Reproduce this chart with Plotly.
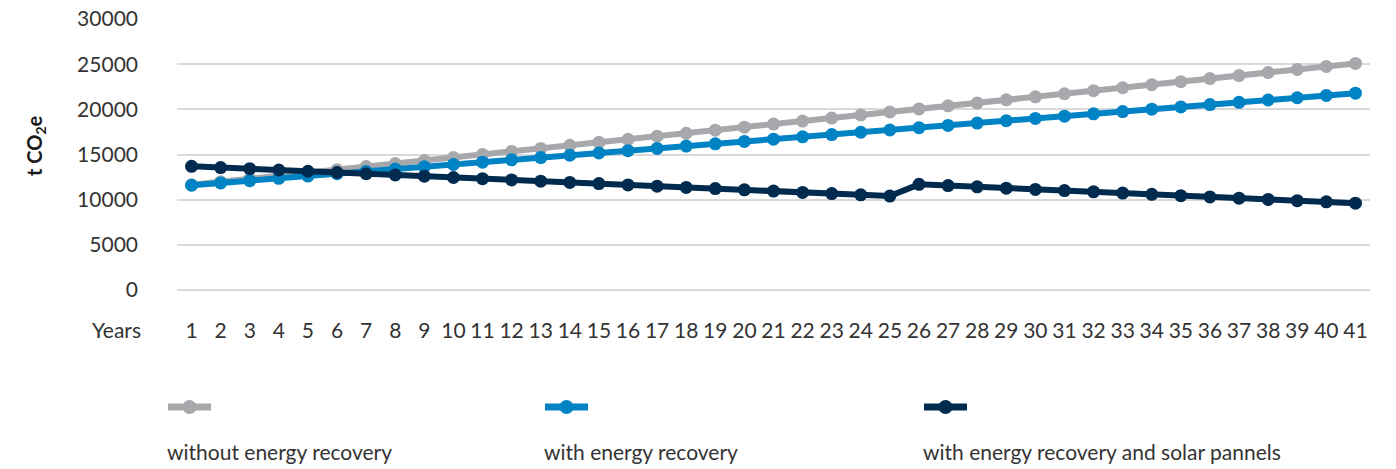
import plotly.graph_objects as go

years = list(range(1, 42))
year_labels = [str(y) for y in years]

without_recovery = [11650, 11990, 12320, 12660, 12990, 13330, 13670, 14000, 14340, 14670,
                    15010, 15350, 15680, 16020, 16350, 16690, 17030, 17360, 17700, 18030,
                    18370, 18710, 19040, 19380, 19710, 20050, 20390, 20720, 21060, 21390,
                    21730, 22070, 22400, 22740, 23070, 23410, 23750, 24080, 24420, 24750, 25090]
with_recovery = [11600, 11860, 12110, 12370, 12620, 12880, 13130, 13390, 13640, 13900,
                 14150, 14410, 14660, 14920, 15170, 15430, 15680, 15940, 16190, 16450,
                 16700, 16960, 17210, 17470, 17720, 17980, 18230, 18490, 18740, 19000,
                 19250, 19510, 19760, 20020, 20270, 20530, 20780, 21040, 21290, 21550, 21800]
with_recovery_solar = [13700, 13560, 13430, 13290, 13150, 13010, 12880, 12740, 12600, 12460,
                       12330, 12190, 12050, 11910, 11780, 11640, 11500, 11360, 11230, 11090,
                       10950, 10810, 10680, 10540, 10400, 11700, 11560, 11420, 11280, 11140,
                       11010, 10870, 10730, 10590, 10450, 10310, 10170, 10030, 9890, 9760, 9620]

series_names = ["without energy recovery", "with energy recovery",
                "with energy recovery and solar pannels"]
series_values = [without_recovery, with_recovery, with_recovery_solar]
colors = ["#A7A8AB", "#0083C4", "#002B4F"]

y_ticks = [0, 5000, 10000, 15000, 20000, 25000, 30000]

W, H = 1396, 469
ML, MR, MT, MB = 177, 26, 19, 179
PW, PH = W - ML - MR, H - MT - MB

def px(x):
    return (x - ML) / PW

def py(y):
    return (H - MB - y) / PH

FONT = "Lato"
TXT = "#333333"
FS = 21

fig = go.Figure()
for name, vals, c in zip(series_names, series_values, colors):
    fig.add_trace(go.Scatter(
        x=years, y=vals, name=name, mode="lines+markers",
        line=dict(color=c, width=6),
        marker=dict(color=c, size=13),
        showlegend=False, cliponaxis=False,
    ))

fig.update_layout(
    width=W, height=H,
    margin=dict(l=ML, r=MR, t=MT, b=MB, autoexpand=False),
    paper_bgcolor="white", plot_bgcolor="white",
    font=dict(family=FONT, size=FS, color=TXT),
    xaxis=dict(
        range=[0.5, 41.5], tickmode="array", tickvals=years, ticktext=year_labels,
        showgrid=False, zeroline=False, showline=False, ticks="",
        ticklabelstandoff=26, tickfont=dict(size=FS, color=TXT), automargin=False,
        ticklabeloverflow="allow",
    ),
    yaxis=dict(
        range=[0, 30010], tickmode="array", tickvals=y_ticks,
        ticktext=[str(v) for v in y_ticks],
        showgrid=True, gridcolor="#D9D9D9", gridwidth=2,
        zeroline=True, zerolinecolor="#D9D9D9", zerolinewidth=2,
        showline=False, ticks="", ticklabelstandoff=38,
        tickfont=dict(size=FS, color=TXT), automargin=False,
        ticklabeloverflow="allow",
    ),
)

annotations = [
    dict(text="<b>t CO<sub>2</sub>e</b>", x=px(35), y=py(146), xref="paper", yref="paper",
         textangle=-90, showarrow=False, xanchor="center", yanchor="middle",
         font=dict(size=20, color="#1a1a1a")),
    dict(text="Years", x=px(143), y=py(329), xref="paper", yref="paper",
         showarrow=False, xanchor="right", yanchor="middle", font=dict(size=FS, color=TXT)),
]
shapes = []
legend_x = [165, 542, 921]
for name, c, lx in zip(series_names, colors, legend_x):
    shapes.append(dict(type="line", xref="paper", yref="paper",
                       x0=px(lx + 3), x1=px(lx + 46), y0=py(407), y1=py(407),
                       line=dict(color=c, width=7)))
    shapes.append(dict(type="circle", xref="paper", yref="paper",
                       x0=px(lx + 24.5 - 7), x1=px(lx + 24.5 + 7),
                       y0=py(407 + 7), y1=py(407 - 7),
                       fillcolor=c, line=dict(color=c, width=0)))
    annotations.append(dict(text=name, x=px(lx), y=py(451), xref="paper", yref="paper",
                            showarrow=False, xanchor="left", yanchor="middle",
                            font=dict(size=FS, color=TXT)))

fig.update_layout(annotations=annotations, shapes=shapes)
fig.write_html("out.html",
               config={"displayModeBar": False},
               post_script="document.body.style.margin='0';document.body.style.overflow='hidden';")
